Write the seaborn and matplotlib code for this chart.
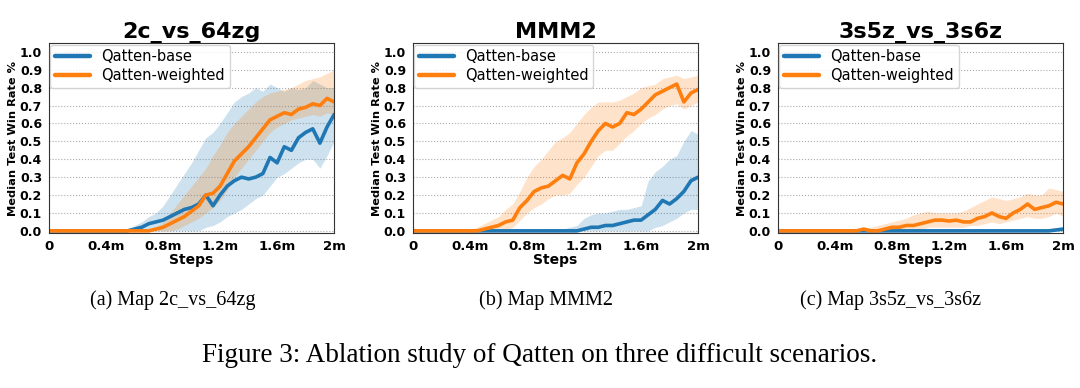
import numpy as np
import pandas as pd
import matplotlib.pyplot as plt
import seaborn as sns

# steps in millions, one sample every 0.05m
steps = [round(i * 0.05, 2) for i in range(41)]

# --- 2c_vs_64zg ---
base_64zg = [0] * 12 + [0.01, 0.02, 0.04, 0.05, 0.06, 0.08, 0.10, 0.12, 0.13, 0.15, 0.20, 0.14,
                        0.20, 0.25, 0.28, 0.30, 0.29, 0.30, 0.32, 0.41, 0.38, 0.47, 0.45, 0.52,
                        0.55, 0.57, 0.49, 0.58, 0.65]
base_64zg_lo = [0] * 22 + [0.02, 0.03, 0.05, 0.08, 0.10, 0.12, 0.15, 0.18, 0.20, 0.25, 0.30, 0.32,
                           0.35, 0.38, 0.40, 0.40, 0.35, 0.42, 0.50]
base_64zg_hi = [0] * 12 + [0.03, 0.05, 0.08, 0.10, 0.14, 0.20, 0.26, 0.32, 0.38, 0.45, 0.52, 0.55,
                           0.60, 0.66, 0.72, 0.75, 0.77, 0.80, 0.78, 0.82, 0.80, 0.78, 0.80, 0.79,
                           0.80, 0.84, 0.82, 0.80, 0.80]
wtd_64zg = [0] * 15 + [0.01, 0.02, 0.04, 0.06, 0.08, 0.11, 0.14, 0.20, 0.21, 0.25, 0.32, 0.39,
                       0.43, 0.47, 0.52, 0.57, 0.62, 0.64, 0.66, 0.65, 0.68, 0.69, 0.71, 0.70,
                       0.74, 0.72]
wtd_64zg_lo = [0] * 18 + [0.01, 0.03, 0.05, 0.07, 0.10, 0.13, 0.17, 0.23, 0.30, 0.35, 0.40, 0.45,
                          0.50, 0.55, 0.58, 0.60, 0.62, 0.63, 0.64, 0.65, 0.64, 0.66, 0.65]
wtd_64zg_hi = [0] * 15 + [0.02, 0.05, 0.10, 0.15, 0.20, 0.25, 0.30, 0.35, 0.42, 0.48, 0.55, 0.60,
                          0.64, 0.68, 0.72, 0.75, 0.77, 0.78, 0.79, 0.80, 0.82, 0.84, 0.85, 0.86,
                          0.88, 0.90]

# --- MMM2 ---
base_mmm2 = [0] * 24 + [0.01, 0.02, 0.02, 0.03, 0.03, 0.04, 0.05, 0.06, 0.06, 0.09, 0.12, 0.17,
                        0.15, 0.18, 0.22, 0.28, 0.30]
base_mmm2_lo = [0] * 34 + [0.02, 0.03, 0.05, 0.07, 0.10, 0.12, 0.12]
base_mmm2_hi = [0] * 19 + [0.01, 0.01, 0.01, 0.02, 0.03, 0.07, 0.09, 0.10, 0.10, 0.11, 0.12, 0.12,
                           0.13, 0.14, 0.28, 0.33, 0.36, 0.40, 0.42, 0.50, 0.56, 0.54]
wtd_mmm2 = [0] * 10 + [0.01, 0.02, 0.03, 0.05, 0.06, 0.13, 0.17, 0.22, 0.24, 0.25, 0.28, 0.31,
                       0.29, 0.38, 0.43, 0.50, 0.56, 0.60, 0.58, 0.60, 0.66, 0.65, 0.68, 0.72,
                       0.76, 0.78, 0.80, 0.82, 0.72, 0.77, 0.79]
wtd_mmm2_lo = [0] * 14 + [0.02, 0.06, 0.10, 0.13, 0.15, 0.18, 0.20, 0.20, 0.21, 0.26, 0.30, 0.36,
                          0.42, 0.45, 0.45, 0.49, 0.53, 0.56, 0.60, 0.63, 0.65, 0.68, 0.70, 0.71,
                          0.68, 0.70, 0.72]
wtd_mmm2_hi = [0] * 8 + [0.01, 0.02, 0.04, 0.06, 0.08, 0.12, 0.15, 0.22, 0.30, 0.36, 0.40, 0.45,
                         0.50, 0.52, 0.55, 0.60, 0.65, 0.69, 0.72, 0.72, 0.72, 0.73, 0.75, 0.77,
                         0.80, 0.81, 0.82, 0.85, 0.86, 0.87, 0.85, 0.86, 0.87]

# --- 3s5z_vs_3s6z ---
base_3s6z = [0] * 39 + [0.005, 0.01]
base_3s6z_lo = [0] * 41
base_3s6z_hi = [0] * 36 + [0.005, 0.005, 0.01, 0.01, 0.02]
wtd_3s6z = [0] * 12 + [0.01, 0.00, 0.00, 0.01, 0.02, 0.02, 0.03, 0.03, 0.04, 0.05, 0.06, 0.06,
                       0.055, 0.06, 0.05, 0.05, 0.07, 0.08, 0.10, 0.08, 0.07, 0.10, 0.12, 0.15,
                       0.12, 0.13, 0.14, 0.16, 0.15]
wtd_3s6z_lo = [0] * 17 + [0.005, 0.01, 0.01, 0.01, 0.02, 0.02, 0.02, 0.02, 0.02, 0.02, 0.03, 0.03,
                          0.04, 0.05, 0.04, 0.05, 0.06, 0.07, 0.08, 0.07, 0.07, 0.08, 0.10, 0.08]
wtd_3s6z_hi = [0] * 11 + [0.005, 0.02, 0.02, 0.03, 0.04, 0.05, 0.06, 0.07, 0.09, 0.10, 0.11, 0.10,
                          0.10, 0.10, 0.10, 0.11, 0.13, 0.15, 0.17, 0.19, 0.18, 0.17, 0.18, 0.19,
                          0.21, 0.20, 0.20, 0.24, 0.23, 0.22]

maps = ["2c_vs_64zg", "MMM2", "3s5z_vs_3s6z"]
captions = ["Map 2c_vs_64zg", "Map MMM2", "Map 3s5z_vs_3s6z"]
letters = ["(a)", "(b)", "(c)"]
series = {
    "2c_vs_64zg": [(base_64zg, base_64zg_lo, base_64zg_hi), (wtd_64zg, wtd_64zg_lo, wtd_64zg_hi)],
    "MMM2": [(base_mmm2, base_mmm2_lo, base_mmm2_hi), (wtd_mmm2, wtd_mmm2_lo, wtd_mmm2_hi)],
    "3s5z_vs_3s6z": [(base_3s6z, base_3s6z_lo, base_3s6z_hi), (wtd_3s6z, wtd_3s6z_lo, wtd_3s6z_hi)],
}
labels = ["Qatten-base", "Qatten-weighted"]
colors = ["#1f77b4", "#ff7f0e"]

x_ticks = [0, 0.4, 0.8, 1.2, 1.6, 2.0]
x_ticklabels = ["0", "0.4m", "0.8m", "1.2m", "1.6m", "2m"]
y_ticks = [round(i * 0.1, 1) for i in range(11)]

sns.set_style("white")
plt.rcParams.update({"text.color": "black", "axes.labelcolor": "black",
                     "xtick.color": "black", "ytick.color": "black"})
fig = plt.figure(figsize=(10.8, 3.88), dpi=100)
lefts = [0.0454, 0.3824, 0.7204]
cap_x = [0.160, 0.506, 0.825]

for i, name in enumerate(maps):
    ax = fig.add_axes([lefts[i], 0.399, 0.264, 0.49])
    for (med, lo, hi), lab, col in zip(series[name], labels, colors):
        df = pd.DataFrame({"steps": steps, "win": med})
        sns.lineplot(data=df, x="steps", y="win", ax=ax, color=col, linewidth=2.6, label=lab)
        ax.fill_between(steps, lo, hi, color=col, alpha=0.22, linewidth=0)
    ax.set_xlim(0, 2.0)
    ax.set_ylim(-0.013, 1.049)
    ax.set_xticks(x_ticks)
    ax.set_xticklabels(x_ticklabels, fontsize=9.5, fontweight="bold")
    ax.set_yticks(y_ticks)
    ax.set_yticklabels([f"{v:.1f}" for v in y_ticks], fontsize=9, fontweight="bold")
    ax.tick_params(axis="both", length=3, width=0.8, pad=2)
    ax.yaxis.grid(True, linestyle=":", color="#aaaaaa", linewidth=0.8)
    ax.xaxis.grid(False)
    for sp in ax.spines.values():
        sp.set_color("#333333")
        sp.set_linewidth(0.8)
    ax.set_xlabel("Steps", fontsize=10, fontweight="bold", labelpad=0)
    ax.set_ylabel("Median Test Win Rate %", fontsize=8.2, fontweight="bold", labelpad=1)
    ax.set_title(name, fontsize=16, fontweight="bold", pad=4)
    leg = ax.legend(loc="upper left", fontsize=10.5, frameon=True, handlelength=2.4,
                    borderaxespad=0.1, borderpad=0.3, labelspacing=0.3, handletextpad=0.8)
    for line in leg.get_lines():
        line.set_linewidth(3.2)
    leg.get_frame().set_edgecolor("#cccccc")
    fig.text(cap_x[i], 0.226, letters[i] + " " + captions[i], ha="center", va="center",
             fontsize=14.5, family="Liberation Serif")

fig.text(0.5, 0.085, "Figure 3: Ablation study of Qatten on three difficult scenarios.",
         ha="center", va="center", fontsize=19.5, family="Liberation Serif")

fig.savefig("out.png", dpi=100)
